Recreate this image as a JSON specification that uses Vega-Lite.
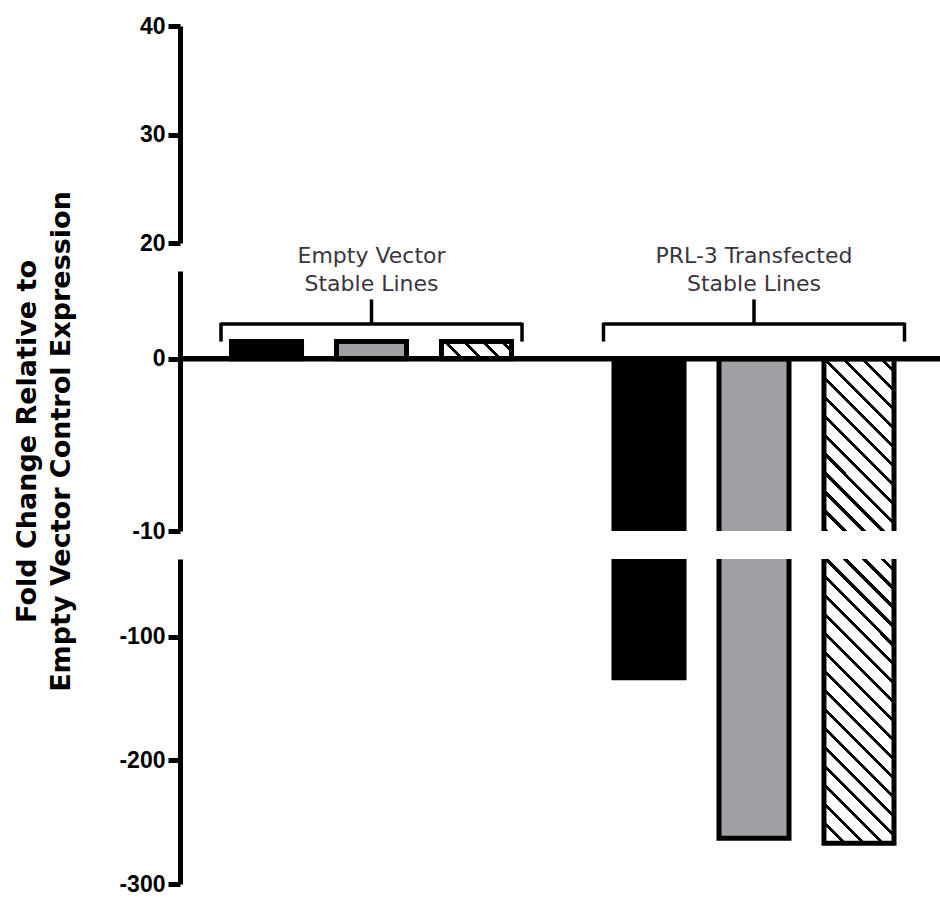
{
  "$schema": "https://vega.github.io/schema/vega-lite/v6.json",
  "background": "white",
  "padding": {"left": 13, "top": 15, "right": 0, "bottom": 5},
  "datasets": {
    "bars": [
      {"group": "Empty Vector", "clone": "Clone 1", "value": 1.0},
      {"group": "Empty Vector", "clone": "Clone 2", "value": 1.0},
      {"group": "Empty Vector", "clone": "Clone 3", "value": 1.0},
      {"group": "PRL-3 Transfected", "clone": "Clone 1", "value": -133},
      {"group": "PRL-3 Transfected", "clone": "Clone 2", "value": -263},
      {"group": "PRL-3 Transfected", "clone": "Clone 3", "value": -267}
    ],
    "groups": [
      {"group": "Empty Vector", "label": "Empty Vector\nStable Lines"},
      {"group": "PRL-3 Transfected", "label": "PRL-3 Transfected\nStable Lines"}
    ]
  },
  "config": {
    "view": {"stroke": null},
    "axis": {
      "domainColor": "#000", "domainWidth": 5, "tickColor": "#000", "tickWidth": 5, "tickSize": 12,
      "labelFont": "Liberation Sans", "labelFontSize": 23, "labelFontWeight": "bold", "labelColor": "#000", "labelPadding": 3,
      "labelExpr": "replace(datum.label, '\u2212', '-')",
      "grid": false, "titleFont": "DejaVu Sans", "titleFontSize": 27, "titleFontWeight": "bold", "titleColor": "#000", "titleLineHeight": 34
    }
  },
  "bounds": "flush",
  "spacing": 28,
  "resolve": {"scale": {"y": "independent"}},
  "vconcat": [
    {
      "width": 760, "height": 217,
      "data": {"name": "bars"},
      "mark": {"type": "point", "opacity": 0},
      "encoding": {
        "y": {"datum": 30, "type": "quantitative", "scale": {"domain": [20, 40], "nice": false, "zero": false}, "axis": {"values": [20, 30, 40], "title": null}}
      }
    },
    {
      "width": 760, "height": 260,
      "layer": [
        {
          "data": {"name": "bars"},
          "transform": [{"filter": "datum.clone !== 'Clone 3'"}],
          "mark": {"type": "bar", "strokeWidth": 0},
          "encoding": {
            "x": {"field": "group", "type": "nominal", "scale": {"type": "band", "domain": ["Empty Vector", "PRL-3 Transfected"], "paddingInner": 0.213, "paddingOuter": 0.1, "align": 0.536}, "axis": null},
            "xOffset": {"field": "clone", "type": "nominal", "scale": {"domain": ["Clone 1", "Clone 2", "Clone 3"], "paddingInner": 0.333, "paddingOuter": 0.1}},
            "y": {"field": "value", "type": "quantitative", "scale": {"domain": [-10, 5.1], "nice": false, "zero": false, "clamp": true}, "axis": {"values": [-10, 0], "title": ["Fold Change Relative to", "Empty Vector Control Expression"], "titlePadding": 56, "titleY": 170}},
            "y2": {"datum": 0},
            "color": {"field": "clone", "type": "nominal", "scale": {"domain": ["Clone 1", "Clone 2", "Clone 3"], "range": ["#000000", "#a0a0a4", "#ffffff"]}, "legend": null}
          }
        },
        {
          "data": {"name": "bars"},
          "transform": [{"filter": "datum.clone === 'Clone 3' && datum.group === 'Empty Vector'"}],
          "mark": {"type": "bar", "strokeWidth": 0, "fill": {"gradient": "linear", "x1": 0, "y1": 1, "x2": 5.106, "y2": -0.255, "stops": [
            {"offset": 0, "color": "#000"}, {"offset": 0.011, "color": "#000"}, {"offset": 0.011, "color": "#fff"}, {"offset": 0.05, "color": "#fff"},
            {"offset": 0.05, "color": "#000"}, {"offset": 0.061, "color": "#000"}, {"offset": 0.061, "color": "#fff"}, {"offset": 0.1, "color": "#fff"},
            {"offset": 0.1, "color": "#000"}, {"offset": 0.111, "color": "#000"}, {"offset": 0.111, "color": "#fff"}, {"offset": 0.15, "color": "#fff"},
            {"offset": 0.15, "color": "#000"}, {"offset": 0.161, "color": "#000"}, {"offset": 0.161, "color": "#fff"}, {"offset": 0.2, "color": "#fff"},
            {"offset": 0.2, "color": "#000"}, {"offset": 0.211, "color": "#000"}, {"offset": 0.211, "color": "#fff"}, {"offset": 0.25, "color": "#fff"},
            {"offset": 0.25, "color": "#000"}, {"offset": 0.261, "color": "#000"}, {"offset": 0.261, "color": "#fff"}, {"offset": 0.3, "color": "#fff"}
          ]}},
          "encoding": {
            "x": {"field": "group", "type": "nominal", "axis": null},
            "xOffset": {"field": "clone", "type": "nominal"},
            "y": {"field": "value", "type": "quantitative", "axis": {"values": [-10, 0], "title": ["Fold Change Relative to", "Empty Vector Control Expression"], "titlePadding": 56, "titleY": 170}},
            "y2": {"datum": 0}
          }
        },
        {
          "data": {"name": "bars"},
          "transform": [{"filter": "datum.clone === 'Clone 3' && datum.group === 'PRL-3 Transfected'"}],
          "mark": {"type": "bar", "strokeWidth": 0, "fill": {"gradient": "linear", "x1": 0, "y1": 1, "x2": 0.769, "y2": -0.89, "stops": [
            {"offset": 0, "color": "#000"}, {"offset": 0.011, "color": "#000"}, {"offset": 0.011, "color": "#fff"}, {"offset": 0.05, "color": "#fff"},
            {"offset": 0.05, "color": "#000"}, {"offset": 0.061, "color": "#000"}, {"offset": 0.061, "color": "#fff"}, {"offset": 0.1, "color": "#fff"},
            {"offset": 0.1, "color": "#000"}, {"offset": 0.111, "color": "#000"}, {"offset": 0.111, "color": "#fff"}, {"offset": 0.15, "color": "#fff"},
            {"offset": 0.15, "color": "#000"}, {"offset": 0.161, "color": "#000"}, {"offset": 0.161, "color": "#fff"}, {"offset": 0.2, "color": "#fff"},
            {"offset": 0.2, "color": "#000"}, {"offset": 0.211, "color": "#000"}, {"offset": 0.211, "color": "#fff"}, {"offset": 0.25, "color": "#fff"},
            {"offset": 0.25, "color": "#000"}, {"offset": 0.261, "color": "#000"}, {"offset": 0.261, "color": "#fff"}, {"offset": 0.3, "color": "#fff"},
            {"offset": 0.3, "color": "#000"}, {"offset": 0.311, "color": "#000"}, {"offset": 0.311, "color": "#fff"}, {"offset": 0.35, "color": "#fff"},
            {"offset": 0.35, "color": "#000"}, {"offset": 0.361, "color": "#000"}, {"offset": 0.361, "color": "#fff"}, {"offset": 0.4, "color": "#fff"},
            {"offset": 0.4, "color": "#000"}, {"offset": 0.411, "color": "#000"}, {"offset": 0.411, "color": "#fff"}, {"offset": 0.45, "color": "#fff"},
            {"offset": 0.45, "color": "#000"}, {"offset": 0.461, "color": "#000"}, {"offset": 0.461, "color": "#fff"}, {"offset": 0.5, "color": "#fff"},
            {"offset": 0.5, "color": "#000"}, {"offset": 0.511, "color": "#000"}, {"offset": 0.511, "color": "#fff"}, {"offset": 0.55, "color": "#fff"},
            {"offset": 0.55, "color": "#000"}, {"offset": 0.561, "color": "#000"}, {"offset": 0.561, "color": "#fff"}, {"offset": 0.6, "color": "#fff"},
            {"offset": 0.6, "color": "#000"}, {"offset": 0.611, "color": "#000"}, {"offset": 0.611, "color": "#fff"}, {"offset": 0.65, "color": "#fff"},
            {"offset": 0.65, "color": "#000"}, {"offset": 0.661, "color": "#000"}, {"offset": 0.661, "color": "#fff"}, {"offset": 0.7, "color": "#fff"}
          ]}},
          "encoding": {
            "x": {"field": "group", "type": "nominal", "axis": null},
            "xOffset": {"field": "clone", "type": "nominal"},
            "y": {"field": "value", "type": "quantitative", "axis": {"values": [-10, 0], "title": ["Fold Change Relative to", "Empty Vector Control Expression"], "titlePadding": 56, "titleY": 170}},
            "y2": {"datum": 0}
          }
        },
        {
          "data": {"name": "bars"},
          "transform": [{"filter": "datum.group === 'Empty Vector'"}],
          "mark": {"type": "bar", "fill": "transparent", "stroke": "#000", "strokeWidth": 5},
          "encoding": {
            "x": {"field": "group", "type": "nominal", "axis": null},
            "xOffset": {"field": "clone", "type": "nominal"},
            "y": {"field": "value", "type": "quantitative", "axis": {"values": [-10, 0], "title": ["Fold Change Relative to", "Empty Vector Control Expression"], "titlePadding": 56, "titleY": 170}},
            "y2": {"datum": 0}
          }
        },
        {
          "data": {"name": "bars"},
          "transform": [{"filter": "datum.group === 'PRL-3 Transfected'"}],
          "mark": {"type": "bar", "fill": "transparent", "stroke": "#000", "strokeWidth": 5, "yOffset": 8, "clip": true},
          "encoding": {
            "x": {"field": "group", "type": "nominal", "axis": null},
            "xOffset": {"field": "clone", "type": "nominal"},
            "y": {"field": "value", "type": "quantitative", "axis": {"values": [-10, 0], "title": ["Fold Change Relative to", "Empty Vector Control Expression"], "titlePadding": 56, "titleY": 170}},
            "y2": {"datum": 0}
          }
        },
        {
          "data": {"values": [{}]},
          "mark": {"type": "rule", "strokeWidth": 5.5, "color": "#000"},
          "encoding": {"y": {"datum": 0, "type": "quantitative", "axis": {"values": [-10, 0], "title": ["Fold Change Relative to", "Empty Vector Control Expression"], "titlePadding": 56, "titleY": 170}}}
        },
        {
          "data": {"name": "groups"},
          "mark": {"type": "bar", "color": "#000", "strokeWidth": 0},
          "encoding": {
            "x": {"field": "group", "type": "nominal", "axis": null},
            "y": {"datum": 1.92, "type": "quantitative", "axis": {"values": [-10, 0], "title": ["Fold Change Relative to", "Empty Vector Control Expression"], "titlePadding": 56, "titleY": 170}},
            "y2": {"datum": 2.12}
          }
        },
        {
          "data": {"name": "groups"},
          "mark": {"type": "rule", "strokeWidth": 3.5, "color": "#000"},
          "encoding": {
            "x": {"field": "group", "type": "nominal", "bandPosition": 0, "axis": null},
            "y": {"datum": 2.1, "type": "quantitative", "axis": {"values": [-10, 0], "title": ["Fold Change Relative to", "Empty Vector Control Expression"], "titlePadding": 56, "titleY": 170}},
            "y2": {"datum": 1.0}
          }
        },
        {
          "data": {"name": "groups"},
          "mark": {"type": "rule", "strokeWidth": 3.5, "color": "#000"},
          "encoding": {
            "x": {"field": "group", "type": "nominal", "bandPosition": 1, "axis": null},
            "y": {"datum": 2.1, "type": "quantitative", "axis": {"values": [-10, 0], "title": ["Fold Change Relative to", "Empty Vector Control Expression"], "titlePadding": 56, "titleY": 170}},
            "y2": {"datum": 1.0}
          }
        },
        {
          "data": {"name": "groups"},
          "mark": {"type": "rule", "strokeWidth": 3.5, "color": "#000"},
          "encoding": {
            "x": {"field": "group", "type": "nominal", "bandPosition": 0.5, "axis": null},
            "y": {"datum": 2.0, "type": "quantitative", "axis": {"values": [-10, 0], "title": ["Fold Change Relative to", "Empty Vector Control Expression"], "titlePadding": 56, "titleY": 170}},
            "y2": {"datum": 3.45}
          }
        },
        {
          "data": {"name": "groups"},
          "mark": {"type": "text", "font": "DejaVu Sans", "fontSize": 22, "color": "#3a3540", "lineBreak": "\n", "lineHeight": 28, "baseline": "bottom", "align": "center", "dy": -6},
          "encoding": {
            "x": {"field": "group", "type": "nominal", "axis": null},
            "y": {"datum": 4.95, "type": "quantitative", "axis": {"values": [-10, 0], "title": ["Fold Change Relative to", "Empty Vector Control Expression"], "titlePadding": 56, "titleY": 170}},
            "text": {"field": "label"}
          }
        }
      ]
    },
    {
      "width": 760, "height": 325,
      "layer": [
        {
          "data": {"name": "bars"},
          "transform": [{"filter": "datum.group === 'PRL-3 Transfected' && datum.clone !== 'Clone 3'"}],
          "mark": {"type": "bar", "strokeWidth": 0},
          "encoding": {
            "x": {"field": "group", "type": "nominal", "scale": {"type": "band", "domain": ["Empty Vector", "PRL-3 Transfected"], "paddingInner": 0.213, "paddingOuter": 0.1, "align": 0.536}, "axis": null},
            "xOffset": {"field": "clone", "type": "nominal", "scale": {"domain": ["Clone 1", "Clone 2", "Clone 3"], "paddingInner": 0.333, "paddingOuter": 0.1}},
            "y": {"field": "value", "type": "quantitative", "scale": {"domain": [-300, -37], "nice": false, "zero": false, "clamp": true}, "axis": {"values": [-300, -200, -100], "title": null}},
            "y2": {"datum": 0},
            "color": {"field": "clone", "type": "nominal", "scale": {"domain": ["Clone 1", "Clone 2", "Clone 3"], "range": ["#000000", "#a0a0a4", "#ffffff"]}, "legend": null}
          }
        },
        {
          "data": {"name": "bars"},
          "transform": [{"filter": "datum.clone === 'Clone 3' && datum.group === 'PRL-3 Transfected'"}],
          "mark": {"type": "bar", "strokeWidth": 0, "fill": {"gradient": "linear", "x1": 0, "y1": 1, "x2": 0.31, "y2": -0.257, "stops": [
            {"offset": 0, "color": "#000"}, {"offset": 0.011, "color": "#000"}, {"offset": 0.011, "color": "#fff"}, {"offset": 0.05, "color": "#fff"},
            {"offset": 0.05, "color": "#000"}, {"offset": 0.061, "color": "#000"}, {"offset": 0.061, "color": "#fff"}, {"offset": 0.1, "color": "#fff"},
            {"offset": 0.1, "color": "#000"}, {"offset": 0.111, "color": "#000"}, {"offset": 0.111, "color": "#fff"}, {"offset": 0.15, "color": "#fff"},
            {"offset": 0.15, "color": "#000"}, {"offset": 0.161, "color": "#000"}, {"offset": 0.161, "color": "#fff"}, {"offset": 0.2, "color": "#fff"},
            {"offset": 0.2, "color": "#000"}, {"offset": 0.211, "color": "#000"}, {"offset": 0.211, "color": "#fff"}, {"offset": 0.25, "color": "#fff"},
            {"offset": 0.25, "color": "#000"}, {"offset": 0.261, "color": "#000"}, {"offset": 0.261, "color": "#fff"}, {"offset": 0.3, "color": "#fff"},
            {"offset": 0.3, "color": "#000"}, {"offset": 0.311, "color": "#000"}, {"offset": 0.311, "color": "#fff"}, {"offset": 0.35, "color": "#fff"},
            {"offset": 0.35, "color": "#000"}, {"offset": 0.361, "color": "#000"}, {"offset": 0.361, "color": "#fff"}, {"offset": 0.4, "color": "#fff"},
            {"offset": 0.4, "color": "#000"}, {"offset": 0.411, "color": "#000"}, {"offset": 0.411, "color": "#fff"}, {"offset": 0.45, "color": "#fff"},
            {"offset": 0.45, "color": "#000"}, {"offset": 0.461, "color": "#000"}, {"offset": 0.461, "color": "#fff"}, {"offset": 0.5, "color": "#fff"},
            {"offset": 0.5, "color": "#000"}, {"offset": 0.511, "color": "#000"}, {"offset": 0.511, "color": "#fff"}, {"offset": 0.55, "color": "#fff"},
            {"offset": 0.55, "color": "#000"}, {"offset": 0.561, "color": "#000"}, {"offset": 0.561, "color": "#fff"}, {"offset": 0.6, "color": "#fff"},
            {"offset": 0.6, "color": "#000"}, {"offset": 0.611, "color": "#000"}, {"offset": 0.611, "color": "#fff"}, {"offset": 0.65, "color": "#fff"},
            {"offset": 0.65, "color": "#000"}, {"offset": 0.661, "color": "#000"}, {"offset": 0.661, "color": "#fff"}, {"offset": 0.7, "color": "#fff"},
            {"offset": 0.7, "color": "#000"}, {"offset": 0.711, "color": "#000"}, {"offset": 0.711, "color": "#fff"}, {"offset": 0.75, "color": "#fff"},
            {"offset": 0.75, "color": "#000"}, {"offset": 0.761, "color": "#000"}, {"offset": 0.761, "color": "#fff"}, {"offset": 0.8, "color": "#fff"},
            {"offset": 0.8, "color": "#000"}, {"offset": 0.811, "color": "#000"}, {"offset": 0.811, "color": "#fff"}, {"offset": 0.85, "color": "#fff"},
            {"offset": 0.85, "color": "#000"}, {"offset": 0.861, "color": "#000"}, {"offset": 0.861, "color": "#fff"}, {"offset": 0.9, "color": "#fff"},
            {"offset": 0.9, "color": "#000"}, {"offset": 0.911, "color": "#000"}, {"offset": 0.911, "color": "#fff"}, {"offset": 0.95, "color": "#fff"},
            {"offset": 0.95, "color": "#000"}, {"offset": 0.961, "color": "#000"}, {"offset": 0.961, "color": "#fff"}, {"offset": 1, "color": "#fff"}
          ]}},
          "encoding": {
            "x": {"field": "group", "type": "nominal", "axis": null},
            "xOffset": {"field": "clone", "type": "nominal"},
            "y": {"field": "value", "type": "quantitative", "axis": {"values": [-300, -200, -100], "title": null}},
            "y2": {"datum": 0}
          }
        },
        {
          "data": {"name": "bars"},
          "transform": [{"filter": "datum.group === 'PRL-3 Transfected'"}],
          "mark": {"type": "bar", "fill": "transparent", "stroke": "#000", "strokeWidth": 5, "y2Offset": -8, "clip": true},
          "encoding": {
            "x": {"field": "group", "type": "nominal", "axis": null},
            "xOffset": {"field": "clone", "type": "nominal"},
            "y": {"field": "value", "type": "quantitative", "axis": {"values": [-300, -200, -100], "title": null}},
            "y2": {"datum": 0}
          }
        }
      ]
    }
  ]
}
